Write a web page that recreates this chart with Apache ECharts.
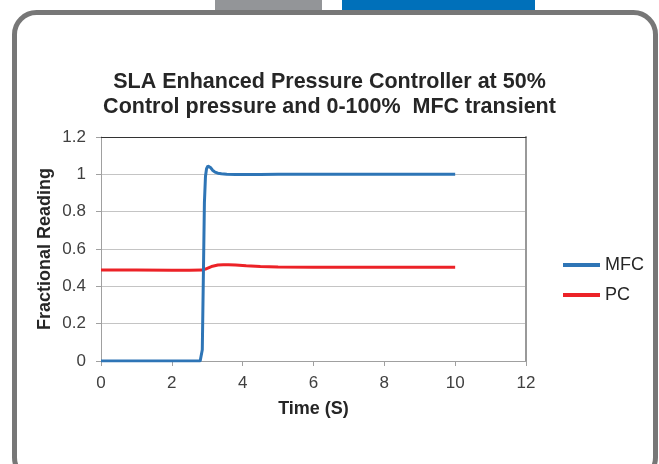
<!DOCTYPE html>
<html>
<head>
<meta charset="utf-8">
<script src="https://cdn.jsdelivr.net/npm/echarts@6/dist/echarts.min.js"></script>
<style>html,body{margin:0;padding:0;background:#fff;}#c{width:659px;height:464px;}</style>
</head>
<body>
<div id="c"></div>
<script>
// Time (s) and readings
const timeMFC = [0, 1, 2, 2.6, 2.8, 2.83, 2.86, 2.89, 2.92, 2.95, 2.98, 3.02, 3.06, 3.1, 3.15, 3.22, 3.3, 3.4, 3.55, 3.8, 4.5, 5, 6, 7, 8, 9, 10];
const mfc     = [0, 0, 0, 0,   0,   0.005, 0.06, 0.45, 0.85, 0.99, 1.03, 1.045, 1.045, 1.035, 1.022, 1.012, 1.006, 1.003, 1.0, 0.999, 0.999, 1.0, 1.0, 1.0, 1.0, 1.0, 1.0];
const timePC  = [0, 1, 2, 2.5, 2.85, 2.95, 3.05, 3.15, 3.3, 3.45, 3.6, 3.8, 4.1, 4.5, 5, 6, 7, 8, 9, 10];
const pc      = [0.488, 0.487, 0.486, 0.486, 0.487, 0.492, 0.5, 0.508, 0.514, 0.516, 0.516, 0.514, 0.51, 0.506, 0.503, 0.502, 0.502, 0.502, 0.502, 0.502];
const seriesNames = ['MFC', 'PC'];
const titleText = 'SLA Enhanced Pressure Controller at 50%\nControl pressure and 0-100%  MFC transient';

const FONT = 'Liberation Sans, Arial, sans-serif';
const chart = echarts.init(document.getElementById('c'), null, {renderer: 'canvas'});
chart.setOption({
  animation: false,
  backgroundColor: '#fff',
  graphic: [
    {type: 'rect', shape: {x: 215, y: 0, width: 107, height: 11}, style: {fill: '#939598'}, z: 0},
    {type: 'rect', shape: {x: 342, y: 0, width: 193, height: 11}, style: {fill: '#0070BA'}, z: 0},
    {type: 'rect', shape: {x: 14.5, y: 12.5, width: 641, height: 467, r: 22}, style: {fill: 'none', stroke: '#777777', lineWidth: 5}, z: 1}
  ],
  title: {
    text: titleText,
    left: 'center',
    top: 65,
    textStyle: {fontFamily: FONT, fontSize: 21.5, fontWeight: 'bold', color: '#262626', lineHeight: 25}
  },
  legend: {
    orient: 'vertical',
    left: 563,
    top: 256,
    padding: 0,
    itemWidth: 37,
    itemHeight: 4,
    itemGap: 12,
    icon: 'rect',
    data: seriesNames,
    textStyle: {fontFamily: FONT, fontSize: 18, color: '#262626'}
  },
  grid: {left: 101, right: 133, top: 137, bottom: 103},
  xAxis: [{
    type: 'value', min: 0, max: 12, interval: 2,
    name: 'Time (S)', nameLocation: 'middle', nameGap: 39,
    nameTextStyle: {fontFamily: FONT, fontSize: 18, fontWeight: 'bold', color: '#262626'},
    axisLine: {show: true, lineStyle: {color: '#a0a0a0', width: 1}},
    axisTick: {show: true, length: 5, lineStyle: {color: '#a0a0a0'}},
    axisLabel: {fontFamily: FONT, fontSize: 17, color: '#404040', margin: 14},
    splitLine: {show: false}
  }, {
    type: 'value', min: 0, max: 12, position: 'top',
    axisLine: {show: true, onZero: false, lineStyle: {color: '#333333', width: 1}},
    axisTick: {show: false}, axisLabel: {show: false}, splitLine: {show: false}
  }],
  yAxis: [{
    type: 'value', min: 0, max: 1.2, interval: 0.2,
    name: 'Fractional Reading', nameLocation: 'middle', nameGap: 47, nameMoveOverlap: false,
    nameTextStyle: {fontFamily: FONT, fontSize: 18, fontWeight: 'bold', color: '#262626'},
    axisLine: {show: true, lineStyle: {color: '#a0a0a0', width: 1}},
    axisTick: {show: true, length: 5, lineStyle: {color: '#a0a0a0'}},
    axisLabel: {fontFamily: FONT, fontSize: 17, color: '#404040', margin: 15},
    splitLine: {show: true, lineStyle: {color: '#c4c4c4', width: 1}}
  }, {
    type: 'value', min: 0, max: 1.2, position: 'right',
    axisLine: {show: true, onZero: false, lineStyle: {color: '#999999', width: 2}},
    axisTick: {show: false}, axisLabel: {show: false}, splitLine: {show: false}
  }],
  series: [{
    name: seriesNames[0], type: 'line', showSymbol: false, symbol: 'none',
    data: timeMFC.map((t, i) => [t, mfc[i]]),
    lineStyle: {color: '#2E75B6', width: 3}, itemStyle: {color: '#2E75B6'}, z: 3
  }, {
    name: seriesNames[1], type: 'line', showSymbol: false, symbol: 'none',
    data: timePC.map((t, i) => [t, pc[i]]),
    lineStyle: {color: '#EC2227', width: 3}, itemStyle: {color: '#EC2227'}, z: 2
  }]
});
</script>
</body>
</html>
